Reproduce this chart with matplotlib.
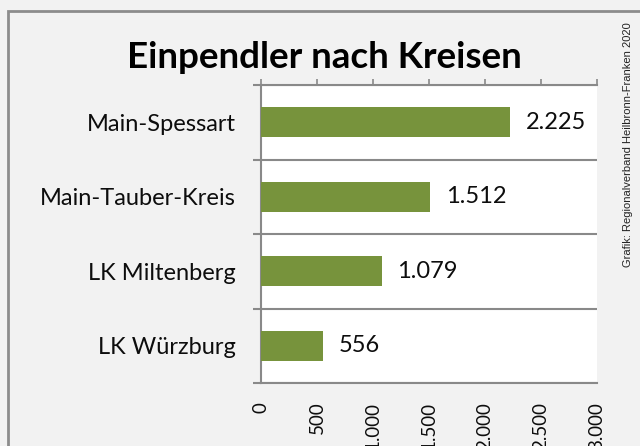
import matplotlib
matplotlib.use("Agg")
import matplotlib.pyplot as plt
from matplotlib.patches import Rectangle
from matplotlib.ticker import FuncFormatter, MultipleLocator

TITLE = "Einpendler nach Kreisen"
CREDIT = "Grafik: Regionalverband Heilbronn-Franken 2020"
categories = ["Main-Spessart", "Main-Tauber-Kreis", "LK Miltenberg", "LK Würzburg"]
values = [2225, 1512, 1079, 556]
x_max = 3000
x_step = 500

BAR_COLOR = "#77933c"
GRID_COLOR = "#898989"
BG = "#f2f2f2"

plt.rcParams["font.family"] = ["Lato", "DejaVu Sans"]


def de_fmt(v, _pos=None):
    return f"{int(round(v)):,}".replace(",", ".")


fig = plt.figure(figsize=(6.4, 4.46), dpi=100, facecolor=BG)
fig.patches.append(
    Rectangle((8 / 640, -0.1), 1.2, 1.1 - 11 / 446, transform=fig.transFigure,
              facecolor=BG, edgecolor="#8c8c8c", linewidth=2.0, zorder=-10)
)

ax = fig.add_axes([261 / 640, 63 / 446, 336 / 640, 298 / 446])
ax.set_facecolor("white")

pos = list(range(len(categories)))
ax.barh(pos, values, height=0.4, color=BAR_COLOR, zorder=3)
for p, v in zip(pos, values):
    ax.annotate(de_fmt(v), (v, p), xytext=(11, 0), textcoords="offset points",
                ha="left", va="center", fontsize=17, color="#0d0d0d")

ax.set_ylim(len(categories) - 0.5, -0.5)
ax.set_xlim(0, x_max)
ax.set_yticks(pos)
ax.set_yticklabels(categories, fontsize=17, color="#0d0d0d")
ax.set_yticks([p - 0.5 for p in pos] + [len(pos) - 0.5], minor=True)
ax.tick_params(axis="y", which="major", length=0, pad=18)
ax.tick_params(axis="y", which="minor", length=6, width=1.5, color=GRID_COLOR)
ax.grid(axis="y", which="minor", color=GRID_COLOR, linewidth=1.5, zorder=1)

ax.xaxis.set_major_locator(MultipleLocator(x_step))
ax.xaxis.set_major_formatter(FuncFormatter(de_fmt))
ax.tick_params(axis="x", which="major", top=True, bottom=False, labeltop=False,
               labelbottom=True, length=4.5, width=1.2, color=GRID_COLOR,
               labelsize=13.5, labelcolor="#0d0d0d", labelrotation=90, pad=9)

for side in ["left", "top", "bottom"]:
    ax.spines[side].set_color(GRID_COLOR)
    ax.spines[side].set_linewidth(1.5)
ax.spines["right"].set_visible(False)

fig.text(0.5 * (126 + 522) / 640, 1 - 57 / 446, TITLE, ha="center", va="center",
         fontsize=26.5, fontweight="bold")
fig.text(628 / 640, 1 - 22 / 446, CREDIT, rotation=90, ha="center", va="top",
         fontsize=8, family=["Liberation Sans", "DejaVu Sans"], color="#222222")

fig.savefig("out.png", dpi=100, facecolor=BG)
